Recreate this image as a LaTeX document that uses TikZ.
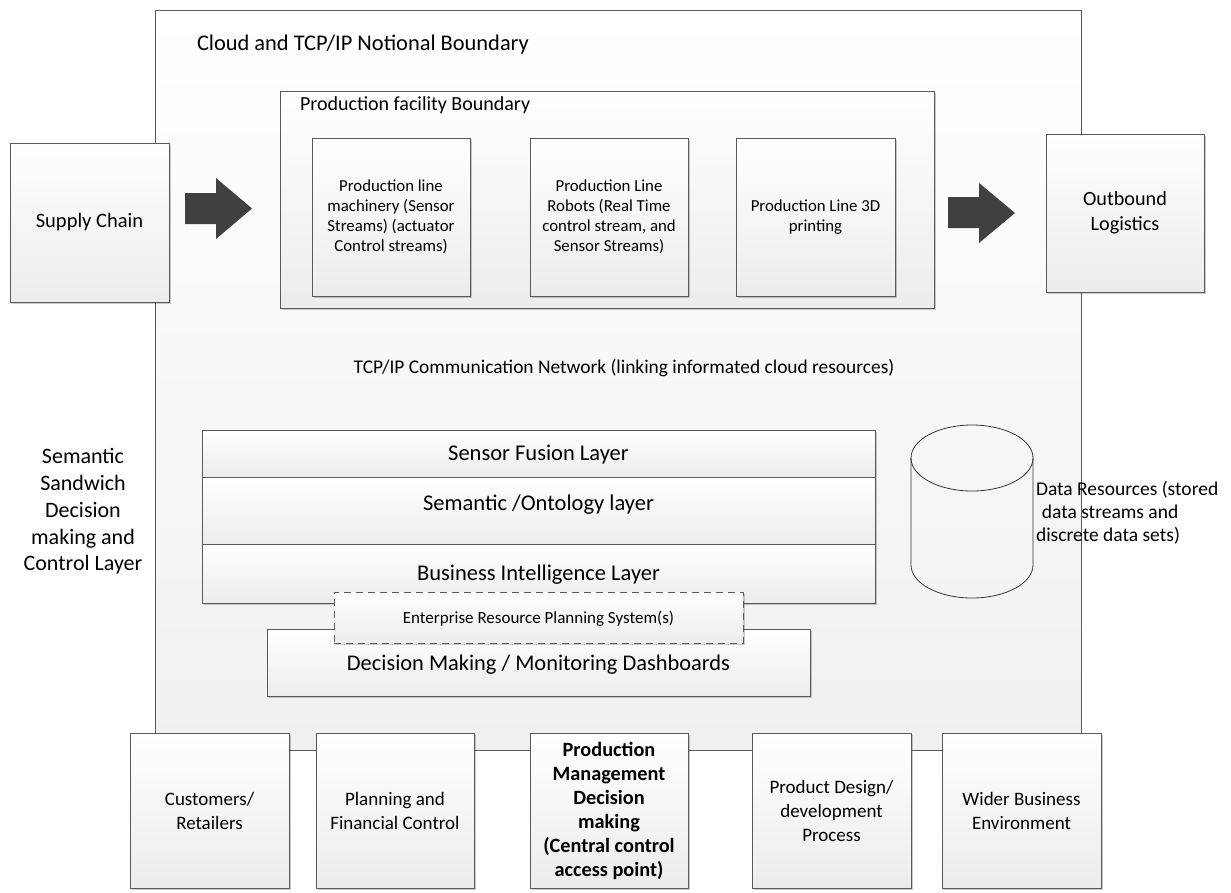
\documentclass[tikz,border=0pt]{standalone}
\usepackage{fontspec}
\setmainfont{Carlito}
\usetikzlibrary{shadows}
\definecolor{linecol}{HTML}{5A5A5A}
\definecolor{boxbot}{HTML}{ECECEC}
\definecolor{outbot}{HTML}{F0F0F0}
\definecolor{arrowcol}{HTML}{404040}
\newcommand{\fs}[2]{\fontsize{#1}{#2}\selectfont}
\tikzset{
  every node/.style={inner sep=0pt, outer sep=0pt},
  boxshade/.style={shading=axis, top color=white, bottom color=boxbot},
  boxdrop/.style={drop shadow={shadow xshift=2pt, shadow yshift=-2pt, opacity=0.2, fill=black}},
  sqbox/.style={draw=linecol, line width=0.8pt, boxshade, boxdrop, align=flush center, text=black},
  layerbox/.style={draw=linecol, line width=0.8pt, boxshade, boxdrop},
  erpbox/.style={draw=linecol, line width=0.8pt, dashed, dash pattern=on 7pt off 5pt, boxshade, boxdrop},
  bigarrow/.style={fill=arrowcol, draw=none},
  plaintext/.style={text=black}
}
\begin{document}
\begin{tikzpicture}[x=1pt, y=-1pt]
\useasboundingbox (0,0) rectangle (1231,892);
\fill[white] (0,0) rectangle (1231,892);

% outer cloud boundary
\node[draw=linecol, line width=0.8pt, shading=axis, top color=white, bottom color=outbot,
      minimum width=926pt, minimum height=740pt] (cloud) at (618,380) {};
\node[plaintext, anchor=west, font=\fs{22.4}{27}] (cloudlbl) at (197,45) {Cloud and TCP/IP Notional Boundary};

% production facility
\node[layerbox, minimum width=654pt, minimum height=217pt] (fac) at (607,199.5) {};
\node[plaintext, anchor=west, font=\fs{20}{24}] (faclbl) at (300,105) {Production facility Boundary};

\node[sqbox, minimum width=158pt, minimum height=158pt, text width=154pt, font=\fs{16.8}{20}] (m1) at (391,217)
  {Production line\\machinery (Sensor\\Streams) (actuator\\Control streams)};
\node[sqbox, minimum width=158pt, minimum height=158pt, text width=154pt, font=\fs{16.8}{20}] (m2) at (609,217)
  {Production Line\\Robots (Real Time\\control stream, and\\Sensor Streams)};
\node[sqbox, minimum width=159pt, minimum height=158pt, text width=154pt, font=\fs{16.8}{20}] (m3) at (815.5,217)
  {Production Line 3D\\printing};

% supply chain and outbound logistics
\node[sqbox, minimum width=159pt, minimum height=159pt, text width=154pt, font=\fs{20.5}{24.6}] (sc) at (89.5,222.5) {Supply Chain};
\node[sqbox, minimum width=158pt, minimum height=158pt, text width=154pt, font=\fs{20.2}{24.6}] (ol) at (1125,213) {Outbound\\Logistics};

% block arrows
\coordinate (a1s) at (185,193);
\fill[bigarrow] (a1s) -- (216,193) -- (216,178) -- (252,208.5) -- (216,239) -- (216,224) -- (185,224) -- cycle;
\coordinate (a2s) at (948,197);
\fill[bigarrow] (a2s) -- (979,197) -- (979,183) -- (1015,213) -- (979,243) -- (979,228) -- (948,228) -- cycle;

% network label
\node[plaintext, font=\fs{19.4}{23}] (tcp) at (624,368) {TCP/IP Communication Network (linking informated cloud resources)};

% semantic sandwich layers
\node[layerbox, minimum width=673pt, minimum height=47pt] (sf) at (538.5,453.5) {};
\node[plaintext, font=\fs{22.5}{27}] (sflbl) at (538.5,455) {Sensor Fusion Layer};
\node[layerbox, minimum width=673pt, minimum height=67pt] (so) at (538.5,510.5) {};
\node[plaintext, font=\fs{22.5}{27}] (solbl) at (538.5,505) {Semantic /Ontology layer};
\node[layerbox, minimum width=673pt, minimum height=59pt] (bi) at (538.5,573.5) {};
\node[plaintext, font=\fs{22.5}{27}] (bilbl) at (538.5,575) {Business Intelligence Layer};
\node[layerbox, minimum width=543pt, minimum height=67pt] (dm) at (538.5,662.5) {};
\node[plaintext, font=\fs{22.4}{27}] (dmlbl) at (538.5,665) {Decision Making / Monitoring Dashboards};
\node[erpbox, minimum width=409pt, minimum height=51pt] (erp) at (538.5,617.5) {};
\node[plaintext, font=\fs{17}{20}] (erplbl) at (538.5,619) {Enterprise Resource Planning System(s)};

\node[plaintext, align=center, font=\fs{22}{26.8}] (sandlbl) at (83,511.5)
  {Semantic\\Sandwich\\Decision\\making and\\Control Layer};

% data resources cylinder
\draw[draw=black!80, line width=0.8pt] (911,458) -- (911,565)
  arc[start angle=180, end angle=0, x radius=61, y radius=33] -- (1033,458);
\draw[draw=black!80, line width=0.8pt] (972,458) ellipse [x radius=61, y radius=33];
\coordinate (cyl) at (972,511);
\node[plaintext, anchor=west, align=left, font=\fs{19.5}{23}] (datalbl) at (1036,513)
  {Data Resources (stored\\\hspace{0.3em}data streams and\\discrete data sets)};

% bottom boxes
\node[sqbox, minimum width=159pt, minimum height=155pt, text width=154pt, font=\fs{19}{24}] (cu) at (209.5,810.5) {Customers/\\Retailers};
\node[sqbox, minimum width=158pt, minimum height=155pt, text width=154pt, font=\fs{19}{24}] (pf) at (395,810.5) {Planning and\\Financial Control};
\node[sqbox, minimum width=158pt, minimum height=155pt, text width=158pt, font=\bfseries\fs{20.3}{24}] (pm) at (609,810.5)
  {Production\\Management\\Decision\\making\\(Central control\\access point)};
\node[sqbox, minimum width=159pt, minimum height=155pt, text width=154pt, font=\fs{19}{24}] (pd) at (831.5,810.5) {Product Design/\\development\\Process};
\node[sqbox, minimum width=159pt, minimum height=155pt, text width=154pt, font=\fs{19}{24}] (wb) at (1021.5,810.5) {Wider Business\\Environment};
\end{tikzpicture}
\end{document}
